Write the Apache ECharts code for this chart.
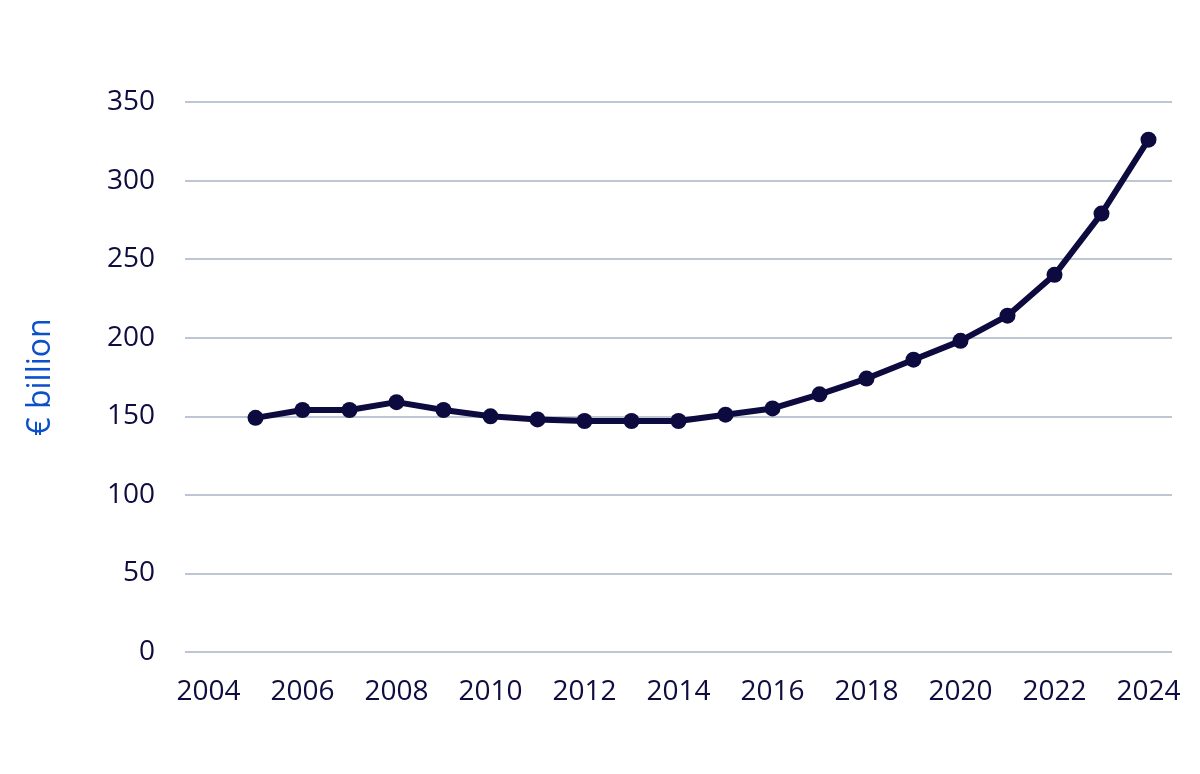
<!DOCTYPE html>
<html>
<head>
<meta charset="utf-8">
<script src="https://cdn.jsdelivr.net/npm/echarts@6/dist/echarts.min.js"></script>
<style>html,body{margin:0;padding:0;background:#fff;}#c{width:1200px;height:774px;}</style>
</head>
<body>
<div id="c"></div>
<script>
const years = ['2004','2005','2006','2007','2008','2009','2010','2011','2012','2013','2014','2015','2016','2017','2018','2019','2020','2021','2022','2023','2024'];
const values = [null,149,154,154,159,154,150,148,147,147,147,151,155,164,174,186,198,214,240,279,326];
const yTicks = {min:0, max:350, interval:50};
const yName = '€ billion';

const chart = echarts.init(document.getElementById('c'));
chart.setOption({
  animation:false,
  grid:{left:185,right:28,top:102,bottom:122,containLabel:false},
  xAxis:{
    type:'category', data:years, boundaryGap:true,
    axisLine:{show:false}, axisTick:{show:false},
    axisLabel:{interval:1, color:'#0f0c3f', fontFamily:'Open Sans', fontSize:28, margin:26}
  },
  yAxis:{
    type:'value', min:yTicks.min, max:yTicks.max, interval:yTicks.interval,
    name:yName, nameLocation:'middle', nameGap:128, nameRotate:90,
    nameTextStyle:{color:'#0b50c8', fontFamily:'Open Sans', fontSize:32},
    axisLine:{show:false}, axisTick:{show:false},
    axisLabel:{color:'#0f0c3f', fontFamily:'Open Sans', fontSize:28, margin:30},
    splitLine:{lineStyle:{color:'#bcc7d3', width:2}}
  },
  series:[{
    type:'line', data:values, connectNulls:false,
    symbol:'circle', symbolSize:16,
    lineStyle:{color:'#0c0a3e', width:6},
    itemStyle:{color:'#0c0a3e'}
  }]
});
</script>
</body>
</html>
